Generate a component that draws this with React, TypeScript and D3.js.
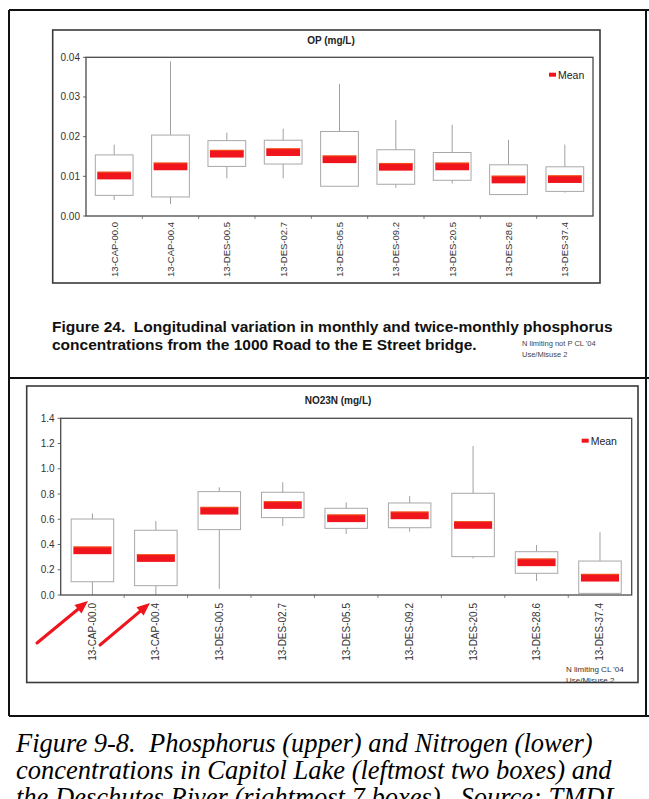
import React from "react";
import * as d3 from "d3";

const categories = [
  "13-CAP-00.0", "13-CAP-00.4", "13-DES-00.5", "13-DES-02.7", "13-DES-05.5",
  "13-DES-09.2", "13-DES-20.5", "13-DES-28.6", "13-DES-37.4",
];

// OP (mg/L)
const opWhiskerHigh = [0.018, 0.039, 0.021, 0.022, 0.0333, 0.0242, 0.023, 0.0192, 0.018];
const opQ3 = [0.0154, 0.0204, 0.019, 0.0191, 0.0213, 0.0167, 0.016, 0.0129, 0.0124];
const opQ1 = [0.0052, 0.0048, 0.0125, 0.0131, 0.0075, 0.008, 0.009, 0.0054, 0.0062];
const opWhiskerLow = [0.004, 0.003, 0.0095, 0.0095, 0.0075, 0.0071, 0.0082, 0.0054, 0.0059];
const opMean = [0.0102, 0.0125, 0.0157, 0.0161, 0.0143, 0.0124, 0.0125, 0.0092, 0.0093];
const opTicks = [0, 0.01, 0.02, 0.03, 0.04];

// NO23N (mg/L)
const noWhiskerHigh = [0.647, 0.586, 0.853, 0.893, 0.734, 0.784, 1.18, 0.396, 0.497];
const noQ3 = [0.602, 0.513, 0.819, 0.814, 0.687, 0.729, 0.806, 0.343, 0.269];
const noQ1 = [0.105, 0.074, 0.518, 0.613, 0.528, 0.533, 0.304, 0.172, 0.013];
const noWhiskerLow = [0, 0, 0.048, 0.547, 0.483, 0.502, 0.29, 0.111, 0.013];
const noMean = [0.354, 0.293, 0.668, 0.713, 0.608, 0.631, 0.555, 0.259, 0.137];
const noTicks = [0, 0.2, 0.4, 0.6, 0.8, 1.0, 1.2, 1.4];

const FONT = "Liberation Sans, Arial, sans-serif";
const SERIF = "Liberation Serif, Times New Roman, serif";
const RED = "#f0141c";
const PRE = { whiteSpace: "pre" as const };

type ChartProps = {
  title: string;
  frame: { x: number; y: number; w: number; h: number };
  plot: { x0: number; x1: number; y0: number; y1: number };
  domainMax: number;
  ticks: number[];
  fmt: string;
  titleX: number;
  titleY: number;
  legendX: number;
  legendY: number;
  labelGap: number;
  labelSize: number;
  hi: number[];
  q3: number[];
  q1: number[];
  lo: number[];
  mean: number[];
};

function BoxChart(p: ChartProps) {
  const x = d3.scaleBand<string>().domain(categories).range([p.plot.x0, p.plot.x1]);
  const y = d3.scaleLinear().domain([0, p.domainMax]).range([p.plot.y1, p.plot.y0]);
  const bw = x.bandwidth();
  const boxW = bw * 0.67;
  const meanW = bw * 0.6;
  const meanH = 7.7;
  const f = d3.format(p.fmt);
  const bounds = d3.range(1, categories.length).map((i) => p.plot.x0 + i * bw);
  return (
    <g>
      <rect x={p.frame.x} y={p.frame.y} width={p.frame.w} height={p.frame.h} fill="white" stroke="#3a3a3a" strokeWidth={1.6} />
      <text x={p.titleX} y={p.titleY} textAnchor="middle" dominantBaseline="central" fontFamily={FONT} fontWeight="bold" fontSize={10} fill="#222">
        {p.title}
      </text>
      {p.ticks.map((t) => (
        <g key={t}>
          <line x1={p.plot.x0 - 3} x2={p.plot.x0} y1={y(t)} y2={y(t)} stroke="#666" strokeWidth={1} />
          <text x={p.plot.x0 - 6} y={y(t)} textAnchor="end" dominantBaseline="central" fontFamily={FONT} fontSize={10} fill="#333">
            {f(t)}
          </text>
        </g>
      ))}
      {bounds.map((b) => (
        <line key={b} x1={b} x2={b} y1={p.plot.y1} y2={p.plot.y1 + 3} stroke="#888" strokeWidth={1} />
      ))}
      {categories.map((c, i) => {
        const cx = (x(c) as number) + bw / 2;
        return (
          <g key={c}>
            <line x1={cx} x2={cx} y1={y(p.hi[i])} y2={y(p.q3[i])} stroke="#a0a0a0" strokeWidth={1} />
            <line x1={cx} x2={cx} y1={y(p.q1[i])} y2={y(p.lo[i])} stroke="#a0a0a0" strokeWidth={1} />
            <rect x={cx - boxW / 2} y={y(p.q3[i])} width={boxW} height={y(p.q1[i]) - y(p.q3[i])} fill="white" stroke="#a8a8a8" strokeWidth={1} />
            <rect x={cx - meanW / 2} y={y(p.mean[i]) - meanH / 2} width={meanW} height={meanH} fill={RED} />
            <line x1={cx - meanW / 2} x2={cx + meanW / 2} y1={y(p.mean[i]) - meanH / 2 + 0.5} y2={y(p.mean[i]) - meanH / 2 + 0.5} stroke="#f2801a" strokeOpacity={0.6} strokeWidth={1} />
          </g>
        );
      })}
      <rect x={p.plot.x0} y={p.plot.y0} width={p.plot.x1 - p.plot.x0} height={p.plot.y1 - p.plot.y0} fill="none" stroke="#4a4a4a" strokeWidth={1.3} />
      {categories.map((c) => {
        const cx = (x(c) as number) + bw / 2;
        const ty = p.plot.y1 + p.labelGap;
        return (
          <text key={c} transform={`translate(${cx},${ty}) rotate(-90)`} textAnchor="end" dominantBaseline="central" fontFamily={FONT} fontSize={p.labelSize} fill="#333">
            {c}
          </text>
        );
      })}
      <rect x={p.legendX} y={p.legendY - 2} width={7} height={4} fill={RED} />
      <text x={p.legendX + 9} y={p.legendY} dominantBaseline="central" fontFamily={FONT} fontSize={10.5} fill="#222">
        Mean
      </text>
    </g>
  );
}

function Arrow({ x1, y1, x2, y2 }: { x1: number; y1: number; x2: number; y2: number }) {
  const ang = Math.atan2(y2 - y1, x2 - x1);
  const L = 13;
  const W = 5.5;
  const bx = x2 - L * Math.cos(ang);
  const by = y2 - L * Math.sin(ang);
  const px = -Math.sin(ang) * W;
  const py = Math.cos(ang) * W;
  return (
    <g>
      <line x1={x1} y1={y1} x2={bx} y2={by} stroke={RED} strokeWidth={3} strokeLinecap="round" />
      <polygon points={`${x2},${y2} ${bx + px},${by + py} ${bx - px},${by - py}`} fill={RED} />
    </g>
  );
}

const captionLines = [
  "Figure 9-8.  Phosphorus (upper) and Nitrogen (lower)",
  "concentrations in Capitol Lake (leftmost two boxes) and",
  "the Deschutes River (rightmost 7 boxes).  Source: TMDL",
];

export default function App() {
  return (
    <svg width={649} height={799} style={{ position: "absolute", left: 0, top: 0, background: "white" }}>
      <rect x={0} y={0} width={649} height={799} fill="white" />
      <line x1={9} x2={9} y1={10} y2={716} stroke="#111" strokeWidth={2} />
      <line x1={646} x2={646} y1={10} y2={716} stroke="#111" strokeWidth={2} />
      <line x1={9} x2={649} y1={10} y2={10} stroke="#111" strokeWidth={2} />
      <line x1={9} x2={649} y1={378} y2={378} stroke="#111" strokeWidth={2} />
      <line x1={9} x2={649} y1={716} y2={716} stroke="#111" strokeWidth={2} />

      <BoxChart
        title="OP (mg/L)"
        frame={{ x: 52.7, y: 30, w: 547.3, h: 253 }}
        plot={{ x0: 86, x1: 593, y0: 57.3, y1: 216 }}
        domainMax={0.04}
        ticks={opTicks}
        fmt=".2f"
        titleX={331}
        titleY={40}
        legendX={549}
        legendY={74.7}
        labelGap={6}
        labelSize={9.5}
        hi={opWhiskerHigh}
        q3={opQ3}
        q1={opQ1}
        lo={opWhiskerLow}
        mean={opMean}
      />
      <text x={52} y={332} fontFamily={FONT} fontWeight="bold" fontSize={15.5} fill="#111" style={PRE}>
        {"Figure 24.  Longitudinal variation in monthly and twice-monthly phosphorus"}
      </text>
      <text x={52} y={350} fontFamily={FONT} fontWeight="bold" fontSize={15.5} fill="#111" style={PRE}>
        concentrations from the 1000 Road to the E Street bridge.
      </text>
      <text x={522} y={346} fontFamily={FONT} fontSize={7.5} fill="#444">N limiting not P CL '04</text>
      <text x={522} y={357} fontFamily={FONT} fontSize={7.5} fill="#444">Use/Misuse 2</text>

      <BoxChart
        title="NO23N (mg/L)"
        frame={{ x: 26.7, y: 386, w: 611.3, h: 296.5 }}
        plot={{ x0: 60.7, x1: 631.7, y0: 418.3, y1: 595 }}
        domainMax={1.4}
        ticks={noTicks}
        fmt=".1f"
        titleX={338}
        titleY={400}
        legendX={581.7}
        legendY={440.7}
        labelGap={8}
        labelSize={10}
        hi={noWhiskerHigh}
        q3={noQ3}
        q1={noQ1}
        lo={noWhiskerLow}
        mean={noMean}
      />
      <text x={566} y={672} fontFamily={FONT} fontSize={8} fill="#333">N limiting CL '04</text>
      <text x={566} y={683} fontFamily={FONT} fontSize={8} fill="#333">Use/Misuse 2</text>
      <Arrow x1={37} y1={643} x2={88} y2={601} />
      <Arrow x1={100} y1={645} x2={150} y2={603} />

      {captionLines.map((line, i) => (
        <text key={i} x={16} y={752 + i * 27} fontFamily={SERIF} fontStyle="italic" fontSize={26.5} fill="#000" style={PRE}>
          {line}
        </text>
      ))}
    </svg>
  );
}
